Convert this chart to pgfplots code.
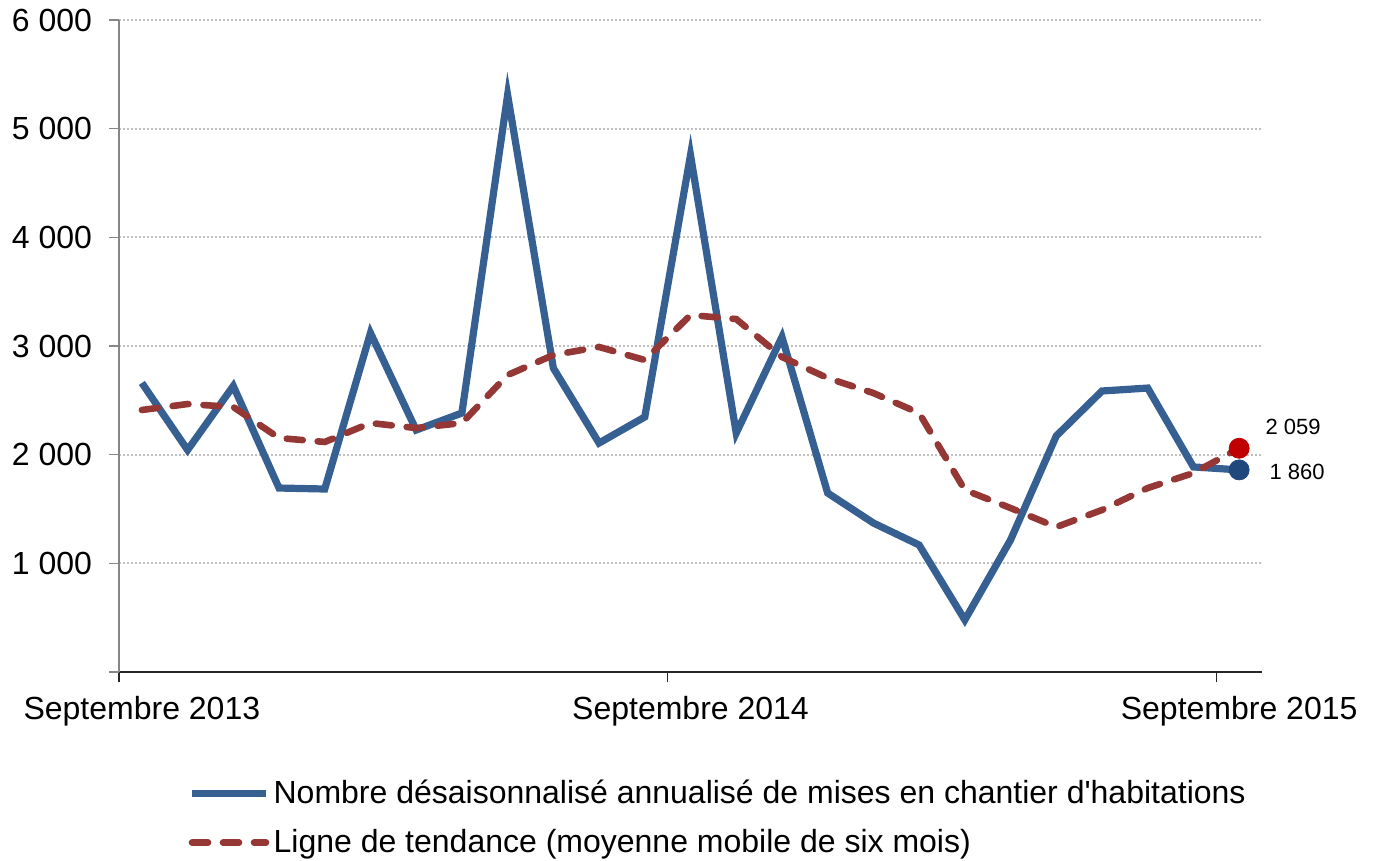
\documentclass[border=0pt]{standalone}
\usepackage{fontspec}
\setmainfont{Liberation Sans}[Ligatures=TeXOff]
\usepackage{pgfplots}
\pgfplotsset{compat=1.18}
\definecolor{bline}{HTML}{376092}
\definecolor{rline}{HTML}{953735}
\definecolor{bdot}{HTML}{1F497D}
\definecolor{rdot}{HTML}{C00000}
\definecolor{gridc}{HTML}{BFBFBF}
\definecolor{yaxc}{HTML}{868686}
\begin{document}
\begin{tikzpicture}
\begin{axis}[
  scale only axis, width=571.5pt, height=326pt,
  xmin=-0.5, xmax=24.5, ymin=0, ymax=6000,
  axis x line=bottom, axis y line=left, axis line style={-},
  x axis line style={draw=black!85, line width=0.6pt},
  y axis line style={draw=yaxc, line width=0.6pt},
  xtick={-0.5,11.5,23.5},
  xticklabels={Septembre 2013,Septembre 2014,Septembre 2015},
  xticklabel style={xshift=11.43pt, yshift=-3.5pt},
  x tick style={draw=black!85, line width=0.6pt},
  ytick={0,1000,...,6000},
  yticklabels={,1 000,2 000,3 000,4 000,5 000,6 000},
  yticklabel style={xshift=-5pt},
  y tick style={draw=yaxc, line width=0.6pt},
  tick align=outside, major tick length=5pt,
  ymajorgrids, grid style={draw=gridc, line width=1pt, dash pattern=on 1pt off 1pt},
  tick label style={font=\fontsize{16}{19}\selectfont, text=black},
  legend style={at={(0.0604,-0.162)}, anchor=north west, draw=none, fill=none,
    inner sep=0pt, row sep=9.5pt, font=\fontsize{16}{19}\selectfont,
    nodes={inner sep=1pt},
    /tikz/every odd column/.append style={column sep=1pt}},
  legend cell align=left,
  legend image code/.code={\draw[#1] (0pt,0pt) -- (37pt,0pt);},
]
\addplot[bline, line width=3.6pt, line join=miter] coordinates {
(0,2660) (1,2043) (2,2632) (3,1693) (4,1684) (5,3120) (6,2227) (7,2383)
(8,5310) (9,2797) (10,2107) (11,2347) (12,4757) (13,2199) (14,3083)
(15,1647) (16,1371) (17,1169) (18,479) (19,1215) (20,2172) (21,2586)
(22,2613) (23,1887) (24,1860)};
\addlegendentry{Nombre désaisonnalisé annualisé de mises en chantier d'habitations}
\addplot[rline, line width=3.3pt, line cap=round, dash pattern=on 8pt off 7.5pt] coordinates {
(0,2411) (1,2466) (2,2439) (3,2153) (4,2117) (5,2291) (6,2245) (7,2291)
(8,2733) (9,2917) (10,2991) (11,2871) (12,3285) (13,3248) (14,2899)
(15,2705) (16,2567) (17,2383) (18,1675) (19,1509) (20,1334) (21,1491)
(22,1693) (23,1831) (24,2059)};
\addlegendentry{Ligne de tendance (moyenne mobile de six mois)}
\addplot[forget plot, only marks, mark=*, mark size=5pt, mark options={draw=rdot, fill=rdot},
  nodes near coords, point meta=explicit symbolic,
  nodes near coords style={anchor=west, inner sep=0pt, xshift=13pt, yshift=10.5pt, font=\fontsize{11}{13}\selectfont, text=black}]
  coordinates {(24,2059) [2 059]};
\addplot[forget plot, only marks, mark=*, mark size=5pt, mark options={draw=bdot, fill=bdot},
  nodes near coords, point meta=explicit symbolic,
  nodes near coords style={anchor=west, inner sep=0pt, xshift=15pt, yshift=-1pt, font=\fontsize{11}{13}\selectfont, text=black}]
  coordinates {(24,1860) [1 860]};
\end{axis}
\pgfresetboundingbox
\path[use as bounding box] (-59.5pt,-94.5pt) rectangle (628pt,336pt);
\end{tikzpicture}
\end{document}
